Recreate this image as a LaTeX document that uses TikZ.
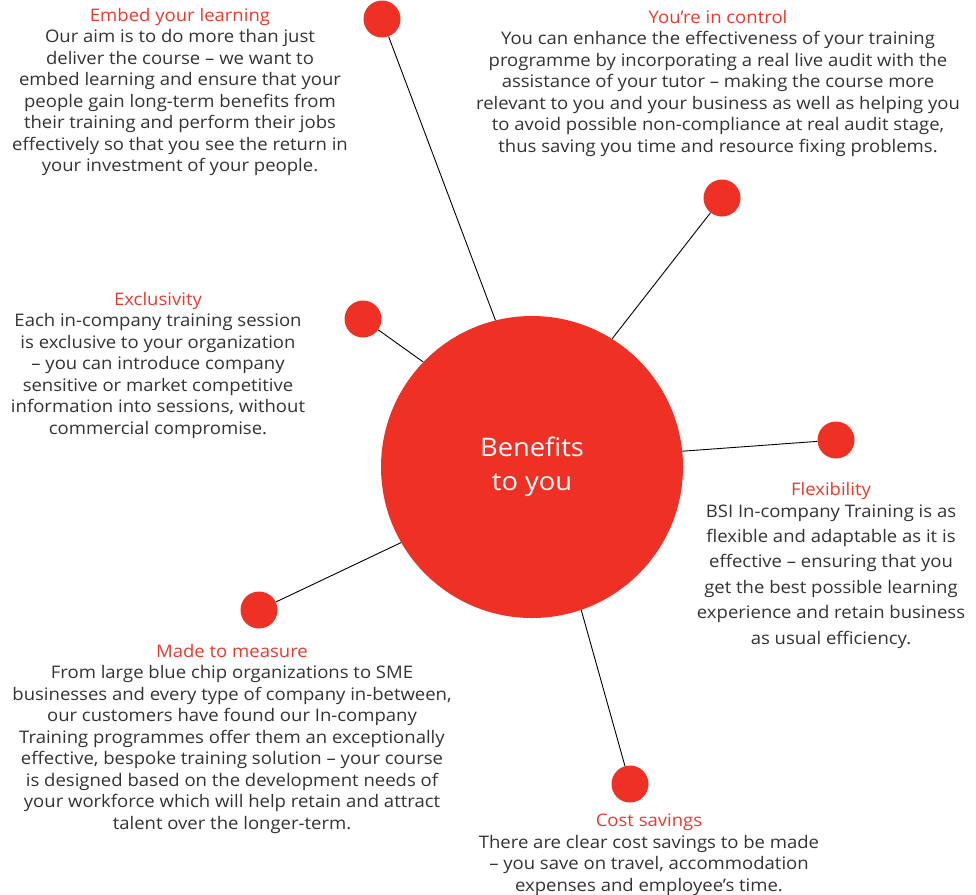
\documentclass[tikz,border=0pt]{standalone}
\usepackage{fontspec}
\setmainfont{Open Sans}[FakeStretch=1.07]
\definecolor{bsired}{HTML}{EE3124}
\definecolor{titlered}{HTML}{E8392F}
\definecolor{textgray}{HTML}{333333}
\begin{document}
\begin{tikzpicture}[x=1pt,y=-1pt,
  hub/.style={circle, fill=bsired, minimum size=302pt, inner sep=0pt,
    text=white, align=center, font=\fontsize{25.5}{34}\selectfont},
  dot/.style={circle, fill=bsired, minimum size=37pt, inner sep=0pt},
  spoke/.style={draw=black, line width=0.9pt},
  blurb/.style={align=center, text=textgray, inner sep=0pt, anchor=north,
    font=\fontsize{17.3}{21.5}\selectfont},
  wideblurb/.style={blurb, font=\fontsize{17.3}{25.4}\selectfont}]
\useasboundingbox (0,0) rectangle (976,894);

\node[hub] (hub) at (532,467) {Benefits\\to you};

\node[dot] (d1) at (382,19) {};
\node[dot] (d2) at (722,198) {};
\node[dot] (d3) at (363,319) {};
\node[dot] (d4) at (836,440) {};
\node[dot] (d5) at (259,610) {};
\node[dot] (d6) at (630,784) {};

\draw[spoke] (d1) -- (hub.104);
\draw[spoke] (d2) -- (hub.58);
\draw[spoke] (d3) -- (hub.136);
\draw[spoke] (d4) -- (hub.6);
\draw[spoke] (d5) -- (hub.210);
\draw[spoke] (d6) -- (hub.-71);

\node[blurb] (t1) at (180,8) {\textcolor{titlered}{Embed your learning}\\
Our aim is to do more than just\\
deliver the course -- we want to\\
embed learning and ensure that your\\
people gain long-term benefits from\\
their training and perform their jobs\\
effectively so that you see the return in\\
your investment of your people.};

\node[blurb] (t2) at (718,10) {\textcolor{titlered}{You’re in control}\\
You can enhance the effectiveness of your training\\
programme by incorporating a real live audit with the\\
assistance of your tutor -- making the course more\\
relevant to you and your business as well as helping you\\
to avoid possible non-compliance at real audit stage,\\
thus saving you time and resource fixing problems.};

\node[blurb] (t3) at (158,292) {\textcolor{titlered}{Exclusivity}\\
Each in-company training session\\
is exclusive to your organization\\
-- you can introduce company\\
sensitive or market competitive\\
information into sessions, without\\
commercial compromise.};

\node[wideblurb] (t4) at (831,482) {\textcolor{titlered}{Flexibility}\\[-3.6pt]
BSI In-company Training is as\\
flexible and adaptable as it is\\
effective -- ensuring that you\\
get the best possible learning\\
experience and retain business\\
as usual efficiency.};

\node[blurb] (t5) at (232,644) {\textcolor{titlered}{Made to measure}\\
From large blue chip organizations to SME\\
businesses and every type of company in-between,\\
our customers have found our In-company\\
Training programmes offer them an exceptionally\\
effective, bespoke training solution -- your course\\
is designed based on the development needs of\\
your workforce which will help retain and attract\\
talent over the longer-term.};

\node[blurb] (t6) at (649,814) {\textcolor{titlered}{Cost savings}\\
There are clear cost savings to be made\\
-- you save on travel, accommodation\\
expenses and employee’s time.};
\end{tikzpicture}
\end{document}
